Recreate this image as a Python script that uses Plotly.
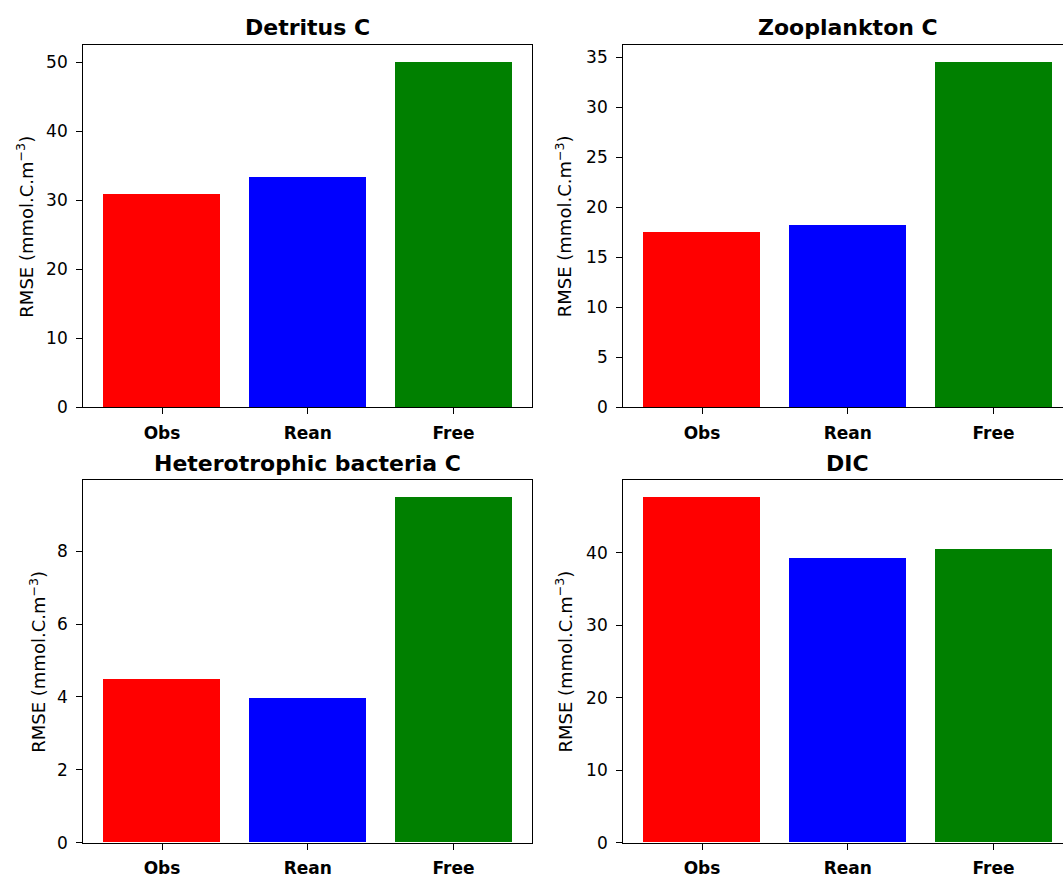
import plotly.graph_objects as go

categories = ["Obs", "Rean", "Free"]
bar_colors = ["#ff0000", "#0000ff", "#008000"]

titles = ["Detritus C", "Zooplankton C", "Heterotrophic bacteria C", "DIC"]
detritus = [30.9, 33.4, 50.0]
zooplankton = [17.55, 18.2, 34.5]
bacteria = [4.47, 3.97, 9.47]
dic = [47.6, 39.2, 40.5]
series = [detritus, zooplankton, bacteria, dic]
dticks = [10, 5, 2, 10]
ylabel = "RMSE (mmol.C.m<sup>−3</sup>)"

W, H = 1063, 880
# panel boxes in pixels (left, right, top, bottom)
panels = [
    (83.3, 532.3, 45.7, 412.0),
    (623.3, 1063.0, 45.7, 412.0),
    (83.3, 532.3, 486.0, 852.3),
    (623.3, 1063.0, 486.0, 852.3),
]
unit_px = (532.3 - 83.3) / 3.08
ylabel_x = [25.4, 564.0, 37.2, 564.0]

FONT = "DejaVu Sans"
fig = go.Figure()
annotations = []
for i, (vals, title) in enumerate(zip(series, titles)):
    n = i + 1
    xa = "x" if n == 1 else f"x{n}"
    ya = "y" if n == 1 else f"y{n}"
    fig.add_trace(go.Bar(
        x=list(range(len(categories))), y=vals, width=0.8,
        marker=dict(color=bar_colors, line=dict(width=0)),
        xaxis=xa, yaxis=ya, showlegend=False,
    ))
    l, r, t, b = panels[i]
    xmax = (r - l) / unit_px - 0.54
    is_right = (i % 2 == 1)
    fig.layout[f"xaxis{'' if n == 1 else n}"] = dict(
        domain=[l / W, r / W], anchor=ya, range=[-0.54, xmax],
        tickmode="array", tickvals=list(range(len(categories))), ticktext=categories,
        showline=True, linecolor="black", linewidth=1.3, mirror=True,
        ticks="outside", ticklen=6, tickwidth=1.2, tickcolor="black",
        showgrid=False, zeroline=False,
        tickfont=dict(family=FONT, size=17, color="black", weight="bold"),
        ticklabelstandoff=4,
        fixedrange=True,
    )
    fig.layout[f"yaxis{'' if n == 1 else n}"] = dict(
        domain=[1 - b / H, 1 - t / H], anchor=xa, range=[0, max(vals) * 1.05],
        dtick=dticks[i], tick0=0,
        showline=True, linecolor="black", linewidth=1.3, mirror=(not is_right),
        ticks="outside", ticklen=6, tickwidth=1.2, tickcolor="black",
        showgrid=False, zeroline=False,
        tickfont=dict(family=FONT, size=17, color="black"),
        ticklabelstandoff=5,
        fixedrange=True,
    )
    cx = (l + (l + 3.08 * unit_px)) / 2
    annotations.append(dict(
        text=title, x=cx / W, y=1 - (t - 17.5) / H, xref="paper", yref="paper",
        xanchor="center", yanchor="middle", showarrow=False,
        font=dict(family=FONT, size=22, color="black", weight="bold"),
    ))
    annotations.append(dict(
        text=ylabel, x=ylabel_x[i] / W, y=1 - ((t + b) / 2) / H,
        xref="paper", yref="paper", xanchor="center", yanchor="middle",
        textangle=-90, showarrow=False,
        font=dict(family=FONT, size=18, color="black"),
    ))

fig.update_layout(
    width=W, height=H, margin=dict(l=0, r=0, t=0, b=0),
    paper_bgcolor="white", plot_bgcolor="white",
    annotations=annotations, bargap=0,
)
fig.write_html("out.html", config={"displayModeBar": False})
